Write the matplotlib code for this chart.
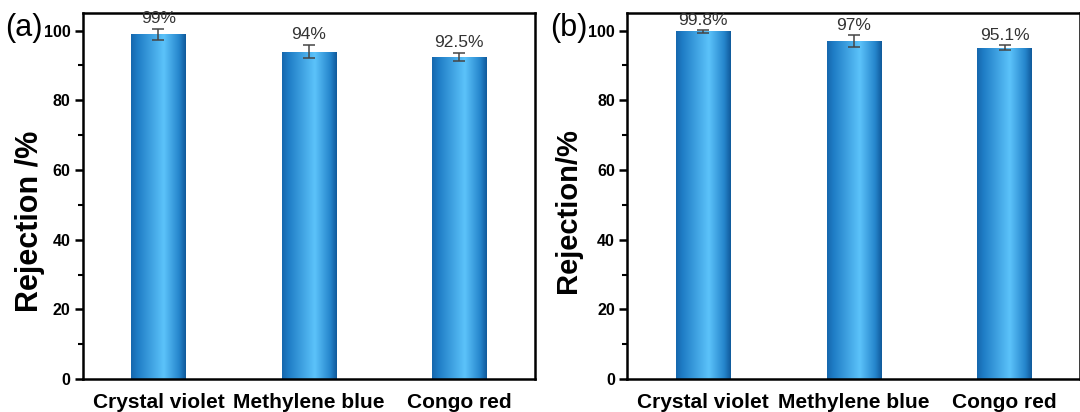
import numpy as np
import matplotlib
matplotlib.use("Agg")
import matplotlib.pyplot as plt
from matplotlib.colors import LinearSegmentedColormap
from matplotlib.ticker import MultipleLocator

plt.rcParams['font.family'] = ['Liberation Sans', 'DejaVu Sans']

dyes = ['Crystal violet', 'Methylene blue', 'Congo red']

rej_a = [99.0, 94.0, 92.5]
err_a = [1.6, 2.0, 1.2]
lab_a = ['99%', '94%', '92.5%']

rej_b = [99.8, 97.0, 95.1]
err_b = [0.4, 1.7, 0.7]
lab_b = ['99.8%', '97%', '95.1%']

# dark edges, bright core slightly right of centre
cyl = LinearSegmentedColormap.from_list(
    'cyl', [(0.0, '#1667ad'), (0.12, '#1f7dc6'), (0.6, '#5cc3fa'),
            (0.88, '#2585cc'), (1.0, '#10599a')])


def panel(ax, vals, errs, labels, tag, ylabel, ylab_size, ylab_xy):
    x = np.arange(len(dyes))
    bars = ax.bar(x, vals, width=0.36, color='none', edgecolor='none', zorder=2)
    grad = np.linspace(0, 1, 256).reshape(1, -1)
    for b in bars:
        x0, w, h = b.get_x(), b.get_width(), b.get_height()
        im = ax.imshow(grad, cmap=cyl, aspect='auto', extent=(x0, x0 + w, 0, h),
                       zorder=2, interpolation='bicubic')
        im.set_clip_path(b)
    ax.errorbar(x, vals, yerr=errs, fmt='none', ecolor='#454545', elinewidth=1.1,
                capsize=4, capthick=1.1, zorder=3)
    for xi, v, e, s in zip(x, vals, errs, labels):
        ax.annotate(s, (xi, v + e), xytext=(0, 1.5), textcoords='offset points',
                    ha='center', va='bottom', fontsize=12.5, color='#333333',
                    zorder=4)

    ax.set_xlim(-0.5, 2.5)
    ax.set_ylim(0, 105)
    ax.set_xticks(x)
    ax.set_xticklabels(dyes, fontsize=15, fontweight='bold')
    ax.yaxis.set_major_locator(MultipleLocator(20))
    ax.yaxis.set_minor_locator(MultipleLocator(10))
    for t in ax.get_yticklabels():
        t.set_fontweight('bold')
    ax.tick_params(axis='y', which='major', direction='out', length=6, width=1.8,
                   labelsize=11.5, pad=3)
    ax.tick_params(axis='y', which='minor', direction='out', length=3.5, width=1.5)
    ax.tick_params(axis='x', length=0, pad=10)
    for sp in ax.spines.values():
        sp.set_linewidth(1.8)
    ax.set_ylabel(ylabel, fontsize=ylab_size, fontweight='bold')
    ax.yaxis.set_label_coords(*ylab_xy)
    ax.text(-0.172, 1.0, tag, transform=ax.transAxes, fontsize=22,
            ha='left', va='top')


fig = plt.figure(figsize=(10.8, 4.12), dpi=100)
ax1 = fig.add_axes([0.077, 0.080, 0.418, 0.888])
ax2 = fig.add_axes([0.581, 0.080, 0.419, 0.888])

panel(ax1, rej_a, err_a, lab_a, '(a)', 'Rejection /%', 22, (-0.085, 0.43))
panel(ax2, rej_b, err_b, lab_b, '(b)', 'Rejection/%', 21, (-0.10, 0.46))

fig.savefig('out.png', dpi=100)
